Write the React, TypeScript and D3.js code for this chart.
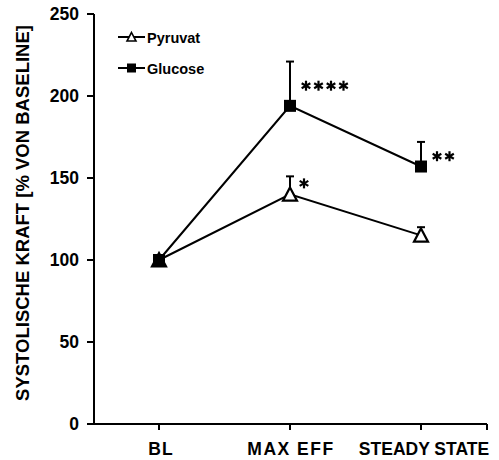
import React from "react";
import * as d3 from "d3";

const categories = ["BL", "MAX EFF", "STEADY STATE"];
const pyruvatValues = [100, 140, 115];
const pyruvatErrors = [0, 11, 5];
const glucoseValues = [100, 194, 157];
const glucoseErrors = [0, 27, 15];
const glucoseStars = [0, 4, 2];
const pyruvatStars = [0, 1, 0];
const yTicks = [0, 50, 100, 150, 200, 250];

function Asterisk({ cx, cy, r = 5 }: { cx: number; cy: number; r?: number }) {
  const angles = [90, 30, 150];
  return (
    <g>
      {angles.map((a) => {
        const rad = (a * Math.PI) / 180;
        const dx = Math.cos(rad) * r, dy = Math.sin(rad) * r;
        return <line key={a} x1={cx - dx} y1={cy - dy} x2={cx + dx} y2={cy + dy} stroke="#000" strokeWidth={2.2} />;
      })}
    </g>
  );
}

export default function App() {
  const W = 499, H = 460;
  const x0 = 94, x1 = 487;
  const y = d3.scaleLinear().domain([0, 250]).range([424, 14]);
  const x = d3.scalePoint<string>().domain(categories).range([159, 421]);
  const line = d3.line<number>().x((_, i) => x(categories[i])!).y((d) => y(d));
  const font = "Arial, 'Liberation Sans', Helvetica, sans-serif";
  const tri = (cx: number, cy: number, s = 7) =>
    `M${cx},${cy - s} L${cx + s},${cy + s * 0.9} L${cx - s},${cy + s * 0.9} Z`;
  const stars = (n: number, cx: number, cy: number, key: string) =>
    d3.range(n).map((k) => <Asterisk key={key + k} cx={cx + k * 12.5} cy={cy} />);
  return (
    <svg width={W} height={H} style={{ position: "absolute", left: 0, top: 0, background: "#fff" }} fontFamily={font}>
      {/* axes */}
      <line x1={x0} x2={x0} y1={y(250)} y2={y(0)} stroke="#000" strokeWidth={2} />
      <line x1={x0} x2={x1} y1={y(0)} y2={y(0)} stroke="#000" strokeWidth={2} />
      {yTicks.map((t) => (
        <g key={t}>
          <line x1={x0 - 7} x2={x0} y1={y(t)} y2={y(t)} stroke="#000" strokeWidth={2} />
          <text x={79} y={y(t)} textAnchor="end" dominantBaseline="central" fontSize={17.5} fontWeight="bold">{t}</text>
        </g>
      ))}
      {categories.map((c) => (
        <line key={c} x1={x(c)} x2={x(c)} y1={y(0)} y2={y(0) + 6} stroke="#000" strokeWidth={2} />
      ))}
      <line x1={x1} x2={x1} y1={y(0)} y2={y(0) + 6} stroke="#000" strokeWidth={2} />
      <text x={161} y={449} textAnchor="middle" dominantBaseline="central" fontSize={17.5} fontWeight="bold" letterSpacing={1}>BL</text>
      <text x={291} y={449} textAnchor="middle" dominantBaseline="central" fontSize={17.5} fontWeight="bold" letterSpacing={1.5}>MAX EFF</text>
      <text x={424} y={449} textAnchor="middle" dominantBaseline="central" fontSize={17.5} fontWeight="bold">STEADY STATE</text>
      <text transform={`translate(22,${213}) rotate(-90)`} textAnchor="middle" dominantBaseline="central" fontSize={18.5} fontWeight="bold">
        SYSTOLISCHE KRAFT [% VON BASELINE]
      </text>
      {/* error bars */}
      {glucoseValues.map((v, i) => glucoseErrors[i] > 0 && (
        <g key={"ge" + i}>
          <line x1={x(categories[i])} x2={x(categories[i])} y1={y(v)} y2={y(v + glucoseErrors[i])} stroke="#000" strokeWidth={2} />
          <line x1={x(categories[i])! - 4} x2={x(categories[i])! + 4} y1={y(v + glucoseErrors[i])} y2={y(v + glucoseErrors[i])} stroke="#000" strokeWidth={2} />
        </g>
      ))}
      {pyruvatValues.map((v, i) => pyruvatErrors[i] > 0 && (
        <g key={"pe" + i}>
          <line x1={x(categories[i])} x2={x(categories[i])} y1={y(v)} y2={y(v + pyruvatErrors[i])} stroke="#000" strokeWidth={2} />
          <line x1={x(categories[i])! - 4} x2={x(categories[i])! + 4} y1={y(v + pyruvatErrors[i])} y2={y(v + pyruvatErrors[i])} stroke="#000" strokeWidth={2} />
        </g>
      ))}
      {/* lines */}
      <path d={line(glucoseValues)!} fill="none" stroke="#000" strokeWidth={2} />
      <path d={line(pyruvatValues)!} fill="none" stroke="#000" strokeWidth={2} />
      {pyruvatValues.map((v, i) => (
        <path key={"pt" + i} d={tri(x(categories[i])!, y(v))} fill="#fff" stroke="#000" strokeWidth={2.2} />
      ))}
      {glucoseValues.map((v, i) => (
        <rect key={"gs" + i} x={x(categories[i])! - 6} y={y(v) - 6} width={12} height={12} fill="#000" />
      ))}
      {/* significance stars */}
      {glucoseStars.map((n, i) => stars(n, x(categories[i])! + 16, y(glucoseValues[i] + glucoseErrors[i] / 2) + 2, "g" + i))}
      {pyruvatStars.map((n, i) => stars(n, x(categories[i])! + 14, y(pyruvatValues[i] + pyruvatErrors[i] / 2) - 2, "p" + i))}
      {/* legend */}
      <line x1={118} x2={145} y1={37} y2={37} stroke="#000" strokeWidth={2} />
      <path d={tri(131.5, 37, 4.5)} fill="#fff" stroke="#000" strokeWidth={1.6} />
      <text x={147} y={38} dominantBaseline="central" fontSize={14.5} fontWeight="bold">Pyruvat</text>
      <line x1={118} x2={145} y1={68} y2={68} stroke="#000" strokeWidth={2} />
      <rect x={127} y={63.5} width={9} height={9} fill="#000" />
      <text x={147} y={69} dominantBaseline="central" fontSize={14.5} fontWeight="bold">Glucose</text>
    </svg>
  );
}
